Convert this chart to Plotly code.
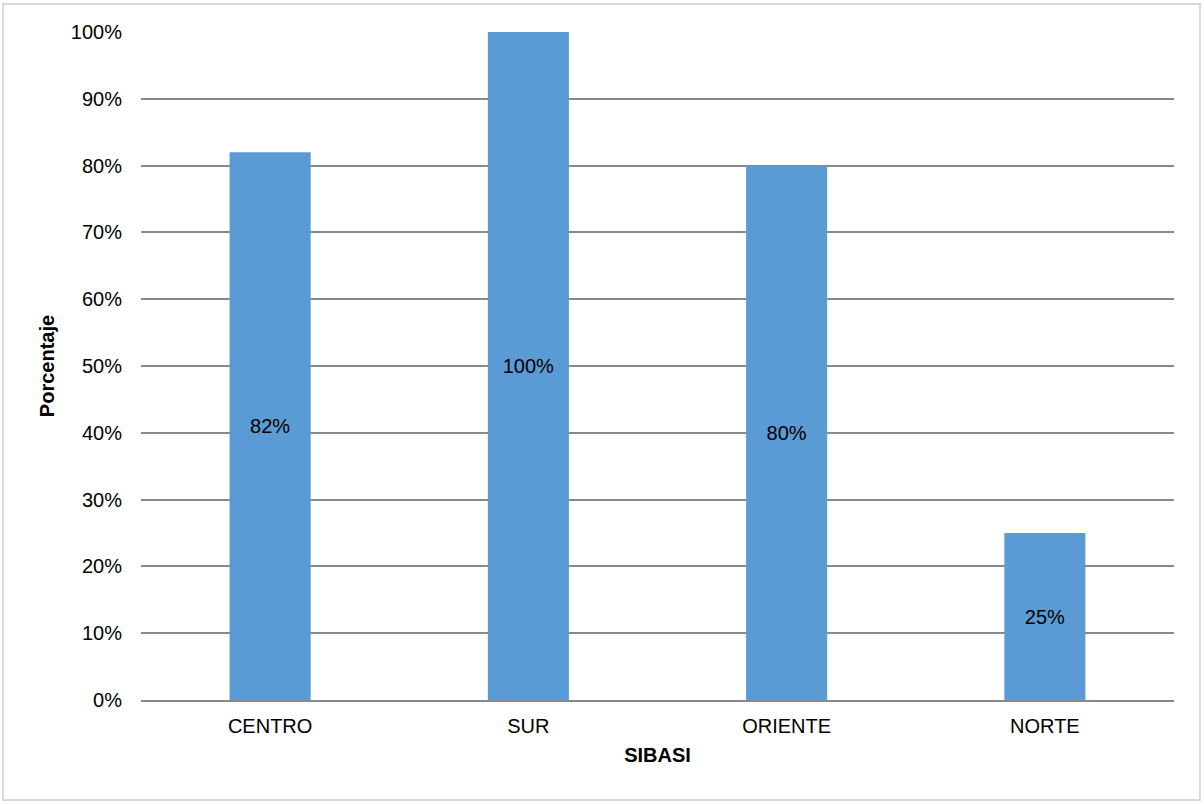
import plotly.graph_objects as go

# Porcentaje por SIBASI
sibasi = ["CENTRO", "SUR", "ORIENTE", "NORTE"]
porcentaje = [82, 100, 80, 25]
etiquetas = ["82%", "100%", "80%", "25%"]
ticks_y = [0, 10, 20, 30, 40, 50, 60, 70, 80, 90, 100]

FONT = "Liberation Sans, Arial, sans-serif"

fig = go.Figure(
    go.Bar(
        x=sibasi,
        y=porcentaje,
        text=etiquetas,
        textposition="inside",
        insidetextanchor="middle",
        textangle=0,
        textfont=dict(family=FONT, size=20, color="#000000"),
        marker=dict(color="#5B9BD5", line=dict(width=0)),
        hoverinfo="skip",
    )
)

fig.update_layout(
    width=1204,
    height=804,
    margin=dict(l=141, r=30, t=32, b=104),
    paper_bgcolor="#FFFFFF",
    plot_bgcolor="#FFFFFF",
    bargap=0.686,
    showlegend=False,
    font=dict(family=FONT, size=20, color="#000000"),
    xaxis=dict(
        title=dict(text="<b>SIBASI</b>", font=dict(size=20), standoff=12),
        showgrid=False,
        showline=True,
        linecolor="#898989",
        linewidth=2,
        ticks="",
        ticklabelstandoff=7,
        tickfont=dict(size=20),
    ),
    yaxis=dict(
        title=dict(text="<b>Porcentaje</b>", font=dict(size=20), standoff=10),
        range=[0, 100],
        tickvals=ticks_y,
        ticktext=[f"{v}%" for v in ticks_y],
        showgrid=True,
        gridcolor="#898989",
        gridwidth=1.5,
        zeroline=False,
        showline=False,
        ticks="",
        ticklabelstandoff=18,
        tickfont=dict(size=20),
    ),
    shapes=[
        dict(
            type="rect",
            xref="paper",
            yref="paper",
            x0=-138 / 1033,
            x1=1 + 26 / 1033,
            y0=-100 / 668,
            y1=1 + 28 / 668,
            line=dict(color="#D9D9D9", width=2),
            layer="below",
        )
    ],
)

fig.write_html("out.html")
